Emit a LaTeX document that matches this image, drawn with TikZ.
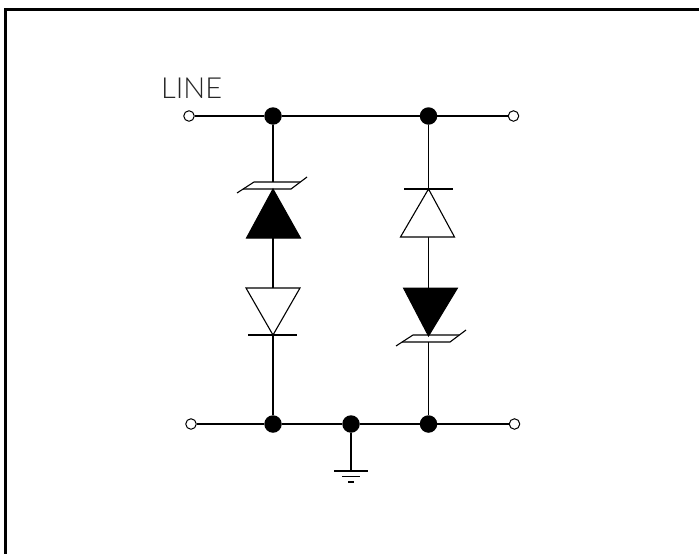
\documentclass[tikz,border=0pt]{standalone}
\usepackage{fontspec}
\newfontfamily\linefont[UprightFont=* Light]{Lato}
\tikzset{
  wire/.style={line width=1.15pt,black},
  frameline/.style={line width=3pt,black},
  junction/.style={circle,fill=black,draw=none,inner sep=0pt,minimum size=17.5pt},
  terminal/.style={circle,fill=white,draw=black,line width=1pt,inner sep=0pt,minimum size=10.5pt},
  diodeopen/.style={line width=1.1pt,black,fill=white,line join=miter},
  diodefill/.style={line width=1pt,black,fill=black,line join=miter},
  bar/.style={line width=1.1pt,black},
}
\begin{document}
\begin{tikzpicture}[x=1pt,y=-1pt]
\useasboundingbox (0,0) rectangle (699,554);
\fill[white] (0,0) rectangle (699,554);
\draw[frameline] (5.5,554) -- (5.5,9.5) -- (699,9.5);

% nodes
\node[junction] (jtl) at (273,116) {};
\node[junction] (jtr) at (428.5,116) {};
\node[junction] (jbl) at (273,424) {};
\node[junction] (jbm) at (351,424) {};
\node[junction] (jbr) at (428.5,424) {};
\node[terminal] (ttl) at (189,116) {};
\node[terminal] (ttr) at (513.5,116) {};
\node[terminal] (tbl) at (191,424) {};
\node[terminal] (tbr) at (514.5,424) {};
\coordinate (gnd) at (351,471);
\coordinate (thick) at (310,116);

% left branch anchors
\coordinate (lzener) at (273,182);
\coordinate (lfa) at (273,189);
\coordinate (lfb) at (273,238);
\coordinate (lob) at (273,288);
\coordinate (loa) at (273,335);
% right branch anchors
\coordinate (rbar) at (428.5,189);
\coordinate (rob) at (428.5,237);
\coordinate (rfb) at (428.5,288);
\coordinate (rfa) at (428.5,336);
\coordinate (rzener) at (428.5,342);

% wires
\draw[wire] (ttl) -- (jtl) -- (jtr) -- (ttr);
\draw[wire] (tbl) -- (jbl) -- (jbm) -- (jbr) -- (tbr);
\draw[line width=2pt,black] (jtl) -- (thick);
\draw[wire] (jtl) -- (lzener);
\draw[wire] (lfb) -- (lob);
\draw[wire] (loa) -- (jbl);
\draw[wire] (jtr) -- (rbar);
\draw[wire] (rob) -- (rfb);
\draw[wire] (rzener) -- (jbr);
\draw[wire] (jbm) -- (gnd);

% left zener + filled diode
\draw[bar] (237,193) -- (254,182) -- (300,182);
\draw[bar] (243,189) -- (291,189) -- (307,177);
\draw[diodefill] (lfa) -- (246.5,238) -- (300.5,238) -- cycle;
% left open diode
\draw[diodeopen] (lob) ++(-27,0) -- ++(54,0) -- (loa) -- cycle;
\draw[bar] (248,335) -- (297,335);

% right open diode
\draw[bar] (404,189) -- (453,189);
\draw[diodeopen] (rbar) -- (400.5,237) -- (454.5,237) -- cycle;
% right filled diode + zener
\draw[bar] (396,346) -- (413,335) -- (459,335);
\draw[bar] (402,342) -- (450,342) -- (466,330);
\draw[diodefill] (403.5,288) -- (457.5,288) -- (rfa) -- cycle;

% ground
\draw[wire] (334,471) -- (368,471);
\draw[wire] (342,476.5) -- (360,476.5);
\draw[wire] (348,482) -- (354,482);

% label
\node[anchor=base west,inner sep=0pt,font=\linefont\fontsize{29}{29}\selectfont,text=black!85] (lbl) at (161,98) {LINE};
\end{tikzpicture}
\end{document}
